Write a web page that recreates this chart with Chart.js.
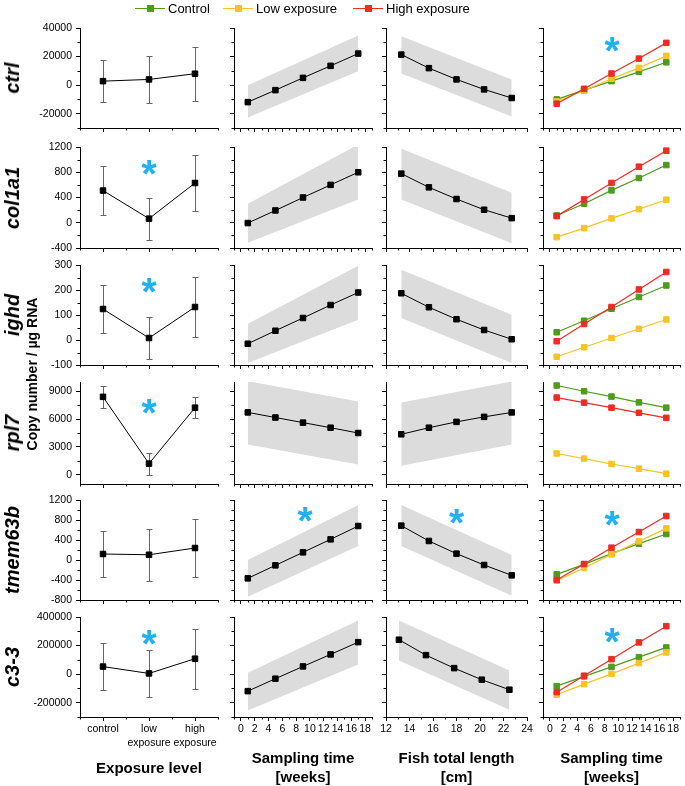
<!DOCTYPE html>
<html>
<head>
<meta charset="utf-8">
<script src="https://cdn.jsdelivr.net/npm/chart.js@4.4.0/dist/chart.umd.min.js"></script>
<style>
  html, body { margin: 0; padding: 0; background: #fff; }
  #fig { position: relative; width: 685px; height: 786px; overflow: hidden;
         font-family: "Liberation Sans", Arial, sans-serif; color: #000; }
  #fig canvas { position: absolute; }
  .gene { position: absolute; font-weight: bold; font-style: italic; font-size: 20px; line-height: 1;
          white-space: nowrap; transform: translate(-50%, -50%) rotate(-90deg); }
  .ylab { position: absolute; font-weight: bold; font-size: 14px; line-height: 1;
          white-space: nowrap; transform: translate(-50%, -50%) rotate(-90deg); }
  .xtitle { position: absolute; font-weight: bold; font-size: 15px; line-height: 19px;
            text-align: center; white-space: nowrap; transform: translateX(-50%); }
  .leg { position: absolute; top: 0; height: 18px; line-height: 18px; font-size: 13px; white-space: nowrap; }
  .sw { display: inline-block; position: relative; width: 30px; height: 1.5px; vertical-align: middle;
        margin-right: 3px; top: -1px; background: var(--c); }
  .sw::after { content: ''; position: absolute; left: 11.5px; top: -3px; width: 7px; height: 7px; background: var(--c); }
</style>
</head>
<body>
<div id="fig"></div>
<script>
// gene rows and x categories
const genes = ['ctrl', 'col1a1', 'ighd', 'rpl7', 'tmem63b', 'c3-3'];
const exposureLevels = ['control', ['low', 'exposure'], ['high', 'exposure']];
const weeks = [1, 5, 9, 13, 17];
const lengthCm = [13.3, 15.65, 18.0, 20.35, 22.7];
const lengthCmC3 = [13.1, 15.4, 17.8, 20.15, 22.5];

// axes
const yMin = [-30000, -400, -100, -1000, -800, -300000];
const yMax = [40000, 1200, 300, 10000, 1200, 400000];
const yTicks = [
  [-20000, 0, 20000, 40000],
  [-400, 0, 400, 800, 1200],
  [-100, 0, 100, 200, 300],
  [0, 3000, 6000, 9000],
  [-800, -400, 0, 400, 800, 1200],
  [-200000, 0, 200000, 400000]
];
const exposureTicks = [1, 2, 3];
const weekTicks = [0, 2, 4, 6, 8, 10, 12, 14, 16, 18];
const lengthTicks = [12, 14, 16, 18, 20, 22, 24];

// column 1: mean +- sd by exposure level
const exposureMean = [
  [2800, 4000, 8000],
  [510, 65, 630],
  [124, 8, 132],
  [8400, 1200, 7230],
  [120, 105, 240],
  [53000, 5000, 108000]
];
const exposureSd = [
  [14500, 16200, 19000],
  [390, 335, 450],
  [95, 85, 120],
  [1200, 1180, 1150],
  [450, 515, 580],
  [162000, 166000, 210000]
];

// column 2: fit vs sampling time, band at first / last week
const weekFit = [
  [-11900, -3500, 5100, 13500, 22100],
  [-5, 195, 400, 600, 800],
  [-15, 37, 88, 140, 190],
  [6720, 6170, 5620, 5070, 4500],
  [-367, -107, 153, 413, 680],
  [-119000, -32000, 54000, 138000, 224000]
];
const weekBandLow = [
  [-22700, 9800], [-317, 370], [-92, 81], [3270, 1090], [-733, 280], [-254000, 68000]
];
const weekBandHigh = [
  [0, 34700], [301, 1238], [65, 297], [10090, 7910], [0, 1100], [10000, 376000]
];

// column 3: fit vs fish total length, band at first / last length
const lengthFit = [
  [21400, 11900, 4000, -3000, -9000],
  [778, 561, 376, 206, 73],
  [187, 131, 83, 40, 3],
  [4360, 5070, 5700, 6240, 6720],
  [687, 380, 127, -100, -307],
  [241000, 133000, 42000, -39000, -109000]
];
const lengthBandLow = [
  [8200, -22000], [370, -324], [88, -92], [980, 3270], [280, -713], [96000, -249000]
];
const lengthBandHigh = [
  [34200, 4000], [1174, 476], [281, 101], [7800, 10060], [1100, 100], [376000, 26000]
];

// column 4: per exposure group vs sampling time
const controlByWeek = [
  [-10000, -3500, 2800, 9300, 16000],
  [116, 302, 513, 708, 914],
  [31, 77, 125, 172, 218],
  [9620, 9000, 8430, 7800, 7230],
  [-287, -87, 127, 327, 520],
  [-84000, -16000, 51000, 119000, 187000]
];
const lowByWeek = [
  [-11400, -3950, 4460, 12100, 20500],
  [-228, -85, 69, 216, 365],
  [-67, -29, 8, 45, 82],
  [2290, 1740, 1160, 650, 110],
  [-413, -160, 113, 373, 633],
  [-144000, -70000, 2000, 77000, 152000]
];
const highByWeek = [
  [-13000, -2560, 8140, 18600, 29600],
  [105, 370, 630, 888, 1142],
  [-5, 64, 132, 202, 272],
  [8320, 7770, 7230, 6680, 6140],
  [-400, -80, 247, 560, 880],
  [-126000, -11000, 105000, 222000, 336000]
];

// significance marks: [row, column, x, y]
const stars = [
  [0, 3, 9.1, 29800], [1, 0, 2, 900], [2, 0, 2, 225], [3, 0, 2, 7550],
  [4, 1, 9.3, 940], [4, 2, 18.0, 900], [4, 3, 9.1, 860],
  [5, 0, 2, 264000], [5, 3, 9.1, 278000]
];

const GREEN = '#4f9b1c', YELLOW = '#f7c325', RED = '#ee2b22', STAR = '#1fb1f0', BAND = '#dcdcdc';
const FONT = '"Liberation Sans", Arial, sans-serif';

// panel placement (plot area in page pixels)
const colLeft = [80, 234, 386, 543], colRight = [218, 372, 527, 680];
const rowTop = [28, 147, 265, 382, 500, 617], rowBottom = [128, 248, 365, 484, 600, 717];

const fig = document.getElementById('fig');

function minorOf(major, min, max) {
  const step = major[1] - major[0];
  const out = [major[0] - step / 2];
  major.forEach(v => out.push(v + step / 2));
  return out.filter(v => v >= min - 1e-9 && v <= max + 1e-9);
}

const pts = (xs, ys) => xs.map((x, i) => ({ x, y: ys[i] }));

function lineSet(data, color, width) {
  return {
    data, borderColor: color, backgroundColor: color, borderWidth: width,
    pointStyle: 'rect', pointRadius: 3.9, pointBorderWidth: 1,
    pointBorderColor: color, pointBackgroundColor: color, fill: false
  };
}

function bandSets(xs, low, high) {
  const ends = [xs[0], xs[xs.length - 1]];
  return [
    { data: pts(ends, low), borderWidth: 0, pointRadius: 0, fill: false },
    { data: pts(ends, high), borderWidth: 0, pointRadius: 0, fill: '-1', backgroundColor: BAND }
  ];
}

function makePanel(r, c) {
  // margins big enough for the y label overhang so the plot area keeps its size
  const L = c === 0 ? 80 : 14, R = 10, T = 14, B = r === 5 ? 40 : 14;
  const w = colRight[c] - colLeft[c], h = rowBottom[r] - rowTop[r];
  const cv = document.createElement('canvas');
  cv.width = L + w + R;
  cv.height = T + h + B;
  cv.style.left = (colLeft[c] - L) + 'px';
  cv.style.top = (rowTop[r] - T) + 'px';
  fig.appendChild(cv);

  let xMin, xMax, xMajor, xLabel, datasets;
  const lengths = r === 5 ? lengthCmC3 : lengthCm;
  if (c === 0) {
    xMin = 0.5; xMax = 3.5; xMajor = exposureTicks;
    xLabel = v => exposureLevels[v - 1];
    datasets = [lineSet(pts(exposureTicks, exposureMean[r]), '#000', 1)];
  } else if (c === 1) {
    xMin = -1; xMax = 19; xMajor = weekTicks; xLabel = v => String(v);
    datasets = [lineSet(pts(weeks, weekFit[r]), '#000', 1), ...bandSets(weeks, weekBandLow[r], weekBandHigh[r])];
  } else if (c === 2) {
    xMin = 12; xMax = 24; xMajor = lengthTicks; xLabel = v => String(v);
    datasets = [lineSet(pts(lengths, lengthFit[r]), '#000', 1), ...bandSets(lengths, lengthBandLow[r], lengthBandHigh[r])];
  } else {
    xMin = -1; xMax = 19; xMajor = weekTicks; xLabel = v => String(v);
    datasets = [
      lineSet(pts(weeks, highByWeek[r]), RED, 1.2),
      lineSet(pts(weeks, lowByWeek[r]), YELLOW, 1.2),
      lineSet(pts(weeks, controlByWeek[r]), GREEN, 1.2)
    ];
  }
  const xMinor = minorOf(xMajor, xMin, xMax);
  const yMinor = minorOf(yTicks[r], yMin[r], yMax[r]);

  const decor = {
    id: 'decor',
    beforeDatasetsDraw(chart) {
      if (c !== 0) return;
      const { ctx, scales: { x, y } } = chart;
      ctx.save();
      ctx.strokeStyle = '#666';
      ctx.lineWidth = 1;
      exposureMean[r].forEach((m, i) => {
        const px = Math.round(x.getPixelForValue(exposureTicks[i])) + 0.5;
        const top = Math.round(y.getPixelForValue(m + exposureSd[r][i])) + 0.5;
        const bot = Math.round(y.getPixelForValue(m - exposureSd[r][i])) + 0.5;
        ctx.beginPath();
        ctx.moveTo(px, top); ctx.lineTo(px, bot);
        ctx.moveTo(px - 3, top); ctx.lineTo(px + 3, top);
        ctx.moveTo(px - 3, bot); ctx.lineTo(px + 3, bot);
        ctx.stroke();
      });
      ctx.restore();
    },
    afterDraw(chart) {
      const { ctx, chartArea: a, scales: { x, y } } = chart;
      ctx.save();
      ctx.strokeStyle = '#000';
      ctx.lineWidth = 1;
      ctx.beginPath();
      xMinor.forEach(v => {
        const px = Math.round(x.getPixelForValue(v)) + 0.5;
        ctx.moveTo(px, a.bottom); ctx.lineTo(px, a.bottom + 2.5);
      });
      yMinor.forEach(v => {
        const py = Math.round(y.getPixelForValue(v)) + 0.5;
        ctx.moveTo(a.left - 2.5, py); ctx.lineTo(a.left, py);
      });
      ctx.stroke();
      ctx.fillStyle = STAR;
      ctx.font = 'bold 39px ' + FONT;
      ctx.textAlign = 'center';
      ctx.textBaseline = 'alphabetic';
      stars.filter(s => s[0] === r && s[1] === c).forEach(s => {
        ctx.fillText('*', x.getPixelForValue(s[2]), y.getPixelForValue(s[3]) + 21);
      });
      ctx.restore();
    }
  };

  const gridOpts = { display: true, drawOnChartArea: false, drawTicks: true, tickLength: 4,
                     color: '#000', tickColor: '#000', tickWidth: 1 };
  new Chart(cv, {
    type: 'line',
    data: { datasets },
    plugins: [decor],
    options: {
      responsive: false,
      animation: false,
      events: [],
      layout: { padding: { left: 0, top: T, right: R, bottom: 0 }, autoPadding: false },
      plugins: { legend: { display: false }, tooltip: { enabled: false } },
      scales: {
        x: {
          type: 'linear', min: xMin, max: xMax,
          afterBuildTicks: s => { s.ticks = xMajor.map(v => ({ value: v })); },
          afterFit: s => { s.height = B; },
          grid: gridOpts,
          border: { display: true, color: '#000', width: 1 },
          ticks: {
            display: r === 5, autoSkip: false, maxRotation: 0, minRotation: 0, padding: 2,
            color: '#000', font: { family: FONT, size: 10.5, lineHeight: 1.25 },
            callback: v => xLabel(v)
          }
        },
        y: {
          type: 'linear', min: yMin[r], max: yMax[r],
          afterBuildTicks: s => { s.ticks = yTicks[r].map(v => ({ value: v })); },
          afterFit: s => { s.width = L; },
          grid: gridOpts,
          border: { display: true, color: '#000', width: 1 },
          ticks: {
            display: c === 0, padding: 4, color: '#000',
            font: { family: FONT, size: 10.5 },
            callback: v => String(v)
          }
        }
      }
    }
  });
}

for (let r = 0; r < genes.length; r++) {
  for (let c = 0; c < 4; c++) makePanel(r, c);
  const g = document.createElement('div');
  g.className = 'gene';
  g.textContent = genes[r];
  g.style.left = '12px';
  g.style.top = ((rowTop[r] + rowBottom[r]) / 2) + 'px';
  fig.appendChild(g);
}

// shared y title
const yl = document.createElement('div');
yl.className = 'ylab';
yl.textContent = 'Copy number / µg RNA';
yl.style.left = '32px';
yl.style.top = ((rowBottom[2] + rowTop[3]) / 2) + 'px';
fig.appendChild(yl);

// x titles
const xTitles = ['Exposure level', 'Sampling time<br>[weeks]', 'Fish total length<br>[cm]', 'Sampling time<br>[weeks]'];
xTitles.forEach((t, c) => {
  const d = document.createElement('div');
  d.className = 'xtitle';
  d.innerHTML = t;
  d.style.left = ((colLeft[c] + colRight[c]) / 2) + 'px';
  d.style.top = (c === 0 ? 758 : 748) + 'px';
  fig.appendChild(d);
});

// legend
const legendItems = [['Control', GREEN, 135], ['Low exposure', YELLOW, 223], ['High exposure', RED, 353]];
legendItems.forEach(([name, color, left]) => {
  const d = document.createElement('div');
  d.className = 'leg';
  d.style.left = left + 'px';
  d.innerHTML = '<span class="sw" style="--c:' + color + '"></span>' + name;
  fig.appendChild(d);
});
</script>
</body>
</html>
